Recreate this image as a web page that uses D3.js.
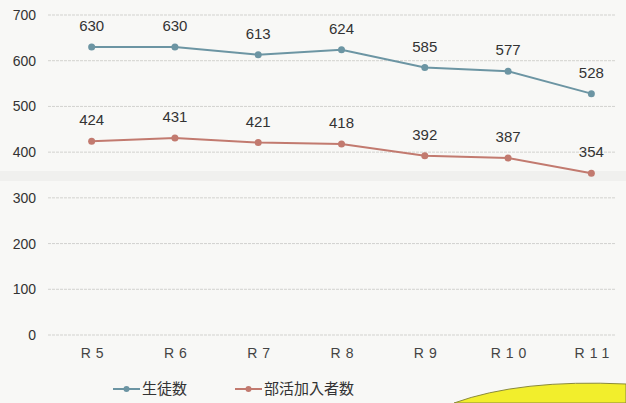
<!DOCTYPE html>
<html>
<head>
<meta charset="utf-8">
<script src="https://cdn.jsdelivr.net/npm/d3@7"></script>
<style>
  body { margin: 0; background: #f8f8f6; }
  svg { display: block; }
  text { font-family: "Liberation Sans", Arial, sans-serif; }
  .jp { font-family: "Noto Sans CJK JP", sans-serif; }
</style>
</head>
<body>
<svg id="chart" width="626" height="403"></svg>
<script>
// data
const years = ["R5", "R6", "R7", "R8", "R9", "R10", "R11"];
const students = [630, 630, 613, 624, 585, 577, 528];
const members = [424, 431, 421, 418, 392, 387, 354];
const yTicks = [0, 100, 200, 300, 400, 500, 600, 700];

const series = [
  { name: "生徒数", values: students, color: "#6c95a3" },
  { name: "部活加入者数", values: members, color: "#c27a6f" }
];

const svg = d3.select("#chart");

const x = d3.scalePoint().domain(years).range([50, 633]).padding(0.5);
const y = d3.scaleLinear().domain([0, 700]).range([335, 15]);

// scan shading band
svg.append("rect")
  .attr("x", 0).attr("y", 171).attr("width", 626).attr("height", 10)
  .attr("fill", "#f0f0ee");

// yellow sticker at the bottom right
svg.append("path")
  .attr("d", "M454,403 Q520,379 626,384 L626,403 Z")
  .attr("fill", "#f2ee2c")
  .attr("stroke", "#8a8a3a")
  .attr("stroke-width", 1);

// grid
svg.append("g")
  .selectAll("line")
  .data(yTicks)
  .join("line")
  .attr("x1", 48).attr("x2", 615)
  .attr("y1", d => y(d)).attr("y2", d => y(d))
  .attr("stroke", "#d2d2cf")
  .attr("stroke-width", 1)
  .attr("stroke-dasharray", "3,1");

// y axis labels
const yAxis = svg.append("g")
  .attr("transform", "translate(36,0)")
  .call(d3.axisLeft(y).tickValues(yTicks).tickSize(0).tickPadding(0));
yAxis.select(".domain").remove();
yAxis.selectAll("text")
  .attr("font-size", 14)
  .attr("fill", "#333");

// x axis labels, spaced out like the print
const xAxis = svg.append("g")
  .attr("transform", "translate(0,348)")
  .call(d3.axisBottom(x).tickSize(0).tickPadding(0));
xAxis.select(".domain").remove();
xAxis.selectAll("text")
  .attr("font-size", 14)
  .attr("fill", "#444")
  .attr("dx", 2.5)
  .style("letter-spacing", "5px");

const line = d3.line()
  .x((d, i) => x(years[i]))
  .y(d => y(d));

series.forEach(s => {
  const g = svg.append("g");
  g.append("path")
    .datum(s.values)
    .attr("d", line)
    .attr("fill", "none")
    .attr("stroke", s.color)
    .attr("stroke-width", 2);
  g.selectAll("circle")
    .data(s.values)
    .join("circle")
    .attr("cx", (d, i) => x(years[i]))
    .attr("cy", d => y(d))
    .attr("r", 3.5)
    .attr("fill", s.color);
  g.selectAll("text")
    .data(s.values)
    .join("text")
    .attr("x", (d, i) => x(years[i]))
    .attr("y", d => y(d) - 16)
    .attr("text-anchor", "middle")
    .attr("font-size", 15)
    .attr("fill", "#333")
    .text(d => d);
});

// legend
const legendX = [113, 235];
series.forEach((s, i) => {
  const lg = svg.append("g").attr("transform", `translate(${legendX[i]},389)`);
  lg.append("line")
    .attr("x1", 0).attr("x2", 27)
    .attr("y1", 0).attr("y2", 0)
    .attr("stroke", s.color).attr("stroke-width", 2);
  lg.append("circle")
    .attr("cx", 13.5).attr("cy", 0).attr("r", 3)
    .attr("fill", s.color);
  lg.append("text")
    .attr("class", "jp")
    .attr("x", 29).attr("y", 5)
    .attr("font-size", 15)
    .attr("fill", "#333")
    .text(s.name);
});
</script>
</body>
</html>
